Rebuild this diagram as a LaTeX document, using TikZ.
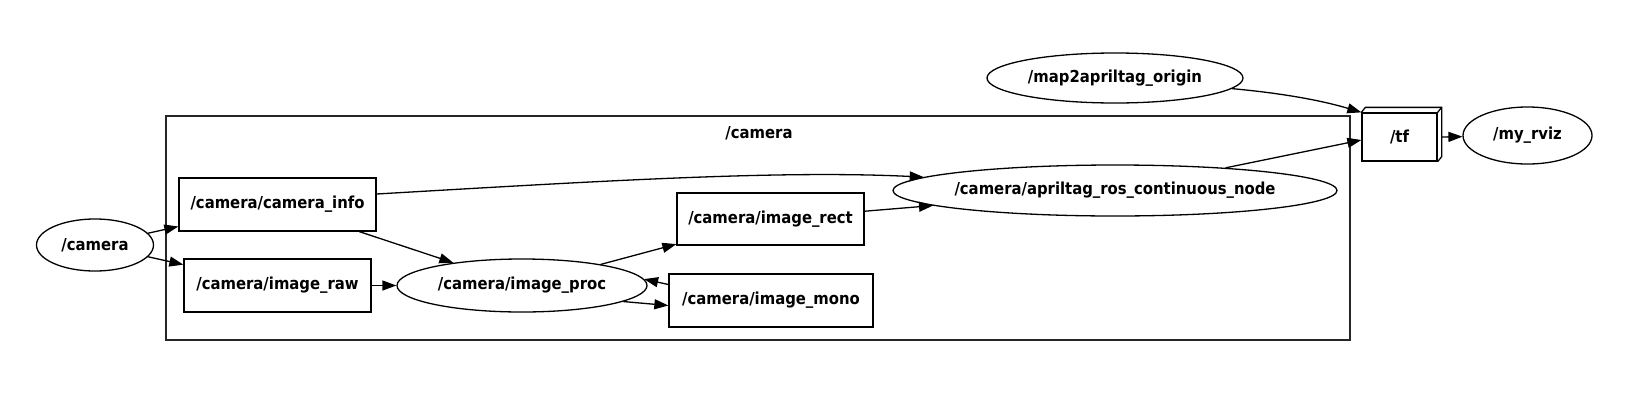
\documentclass[tikz,border=0pt]{standalone}
\usepackage{fontspec}
\setmainfont{DejaVu Sans Condensed}
\usetikzlibrary{arrows.meta,shapes.geometric,calc}
\begin{document}
\begin{tikzpicture}[x=1pt,y=-1pt,
  lbl/.style={font=\fontsize{16.5}{18}\selectfont\bfseries},
  topic/.style={lbl, draw, rectangle, inner sep=0pt, line width=1.3pt},
  gnode/.style={lbl, draw, ellipse, inner sep=0pt, line width=1.3pt},
  arr/.style={-{Triangle[length=14pt,width=10pt]}, line width=1.3pt}]
\useasboundingbox[fill=white] (0,0) rectangle (1629,418);
% cluster
\node[draw, line width=1.4pt, draw=black!85, minimum width=1184pt, minimum height=224pt, inner sep=0pt] (clu) at (758,228) {};
\node[lbl] (clulbl) at (759,133) {/camera};
% nodes
\node[gnode, minimum width=117pt, minimum height=52pt] (cam) at (95,245) {/camera};
\node[topic, minimum width=197pt, minimum height=53pt] (ci) at (277.5,204.5) {/camera/camera\_info};
\node[topic, minimum width=187pt, minimum height=53pt] (ir) at (277.5,285.5) {/camera/image\_raw};
\node[gnode, minimum width=250pt, minimum height=53pt] (ip) at (522,285.5) {/camera/image\_proc};
\node[topic, minimum width=187pt, minimum height=52pt] (irect) at (770.5,219) {/camera/image\_rect};
\node[topic, minimum width=204pt, minimum height=53pt] (imono) at (771,300.5) {/camera/image\_mono};
\node[gnode, inner xsep=-6pt, minimum width=444pt, minimum height=51pt] (ap) at (1115,190.5) {/camera/apriltag\_ros\_continuous\_node};
\node[gnode, minimum width=256pt, minimum height=50pt] (map) at (1115,78) {/map2apriltag\_origin};
\node[topic, minimum width=75pt, minimum height=48pt] (tf) at (1399.5,137) {/tf};
\draw[line width=1.3pt] (tf.north west) -- ++(4,-5) -| ($(tf.south east)+(4,-5)$) -- (tf.south east);
\draw[line width=1.3pt] (tf.north east) -- ++(4,-5);
\node[gnode, minimum width=129pt, minimum height=57pt] (rviz) at (1527.5,135.5) {/my\_rviz};
% edges
\draw[arr] (cam) -- (ci);
\draw[arr] (cam) -- (ir);
\draw[arr] (ci) -- (ip);
\draw[arr] (ir) -- (ip);
\draw[arr] (ip) -- (irect);
\draw[arr] (ip.-9) -- ([yshift=-5pt]imono.west);
\draw[arr] ([yshift=16pt]imono.west) -- (ip.3);
\draw[arr] (irect) -- (ap);
\draw[arr] (ci.east |- 0,194) .. controls (600,181) and (780,170) .. (ap.176);
\draw[arr] (ap) -- ([yshift=-3pt]tf.west);
\draw[arr] (map) .. controls (1280,93) and (1320,100) .. (tf.north west);
\draw[arr] ([xshift=4pt]tf.east) -- (rviz);
\end{tikzpicture}
\end{document}
